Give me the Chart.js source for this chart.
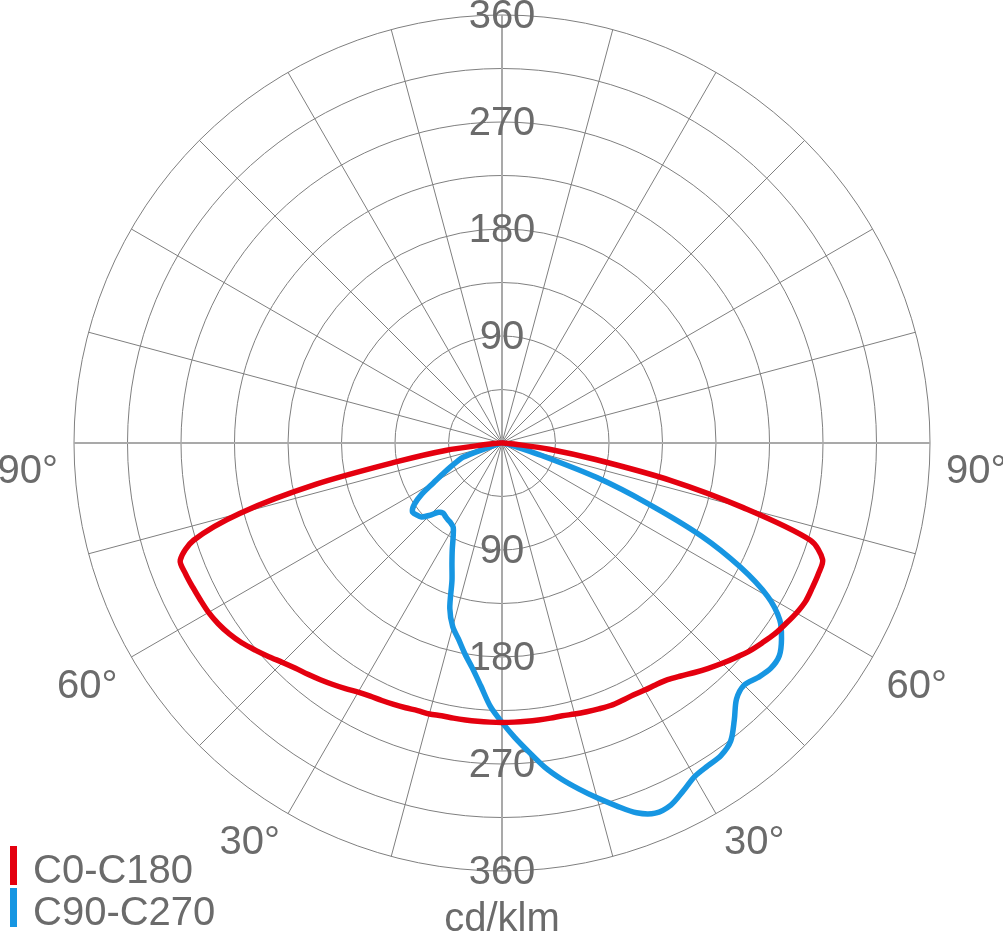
<!DOCTYPE html>
<html>
<head>
<meta charset="utf-8">
<script src="https://cdn.jsdelivr.net/npm/chart.js@4.4.1/dist/chart.umd.min.js"></script>
<style>
  html, body { margin: 0; padding: 0; background: #ffffff; }
  canvas { display: block; }
</style>
</head>
<body>
<canvas id="chart" width="1003" height="933" style="width:1003px;height:933px"></canvas>
<script>
// ---- data (values in cd/klm, gamma angle measured from the nadir, step 2.5 deg, 0..90) ----
const gammaStep = 2.5;
const gammaDeg = [0,2.5,5,7.5,10,12.5,15,17.5,20,22.5,25,27.5,30,32.5,35,37.5,40,42.5,45,47.5,50,52.5,55,57.5,60,62.5,65,67.5,70,72.5,75,77.5,80,82.5,85,87.5,90];
// C0-C180 plane: right half (C0) and left half (C180)
const c0   = [235,235,235,235,235,235,236,237,238,239,239,239,240,241,243,247,252,257,262,267,272,276,280,283,286,288,288,288,287,272,210,145,80,40,10,3,0];
const c180 = [235,235,235,235,235,235,236,236,237,238,239,240,242,245,248,251,254,257,261,266,271,276,280,283,285,286,287,288,288,272,228,160,88,48,12,4,0];
// C90-C270 plane: right half (C90) and left half (C270)
const c90  = [235,248,261,275,287,298,309,320,331,337,336,330,324,322,321,316,304,292,288,292,295,294,287,277,258,226,185,132,85,35,12,6,3,2,1,0,0];
const c270 = [235,222,205,191,180,169,160,146,123,110,99,89,82,80,79,78,77,79,86,92,94,95,90,80,66,56,48,41,35,10,5,3,2,1,0,0,0];
const ringTicks = [90, 180, 270, 360];
const angleTicks = [30, 60, 90];
const seriesNames = ['C0-C180', 'C90-C270'];
const seriesColors = ['#e4000f', '#1796e2'];
const unitLabel = 'cd/klm';

// ---- build radar categories (theta clockwise from top, 2.5 deg) ----
const thetaLabels = [];
for (let i = 0; i < 360 / gammaStep; i++) thetaLabels.push(i * gammaStep);

function buildSeries(right, left) {
  return thetaLabels.map(theta => {
    if (theta >= 90 && theta <= 180) return right[Math.round((180 - theta) / gammaStep)];
    if (theta > 180 && theta <= 270) return left[Math.round((theta - 180) / gammaStep)];
    return 0;
  });
}

const TEXT = '#6b6b6b';
const FONT = '40px "Liberation Sans", Arial, sans-serif';

const decor = {
  id: 'decor',
  beforeDatasetsDraw(chart) {
    const s = chart.scales.r;
    const ctx = chart.ctx;
    ctx.save();
    ctx.font = FONT;
    ctx.fillStyle = TEXT;
    ctx.textAlign = 'center';
    ctx.textBaseline = 'middle';
    const bottomIdx = Math.round(180 / gammaStep);
    ringTicks.forEach(v => {
      const d = s.getDistanceFromCenterForValue(v);
      const top = s.getPointPosition(0, d);
      const bot = s.getPointPosition(bottomIdx, d);
      ctx.fillText(String(v), top.x, top.y + 2);
      ctx.fillText(String(v), bot.x, bot.y + 2);
    });
    ctx.restore();
  },
  afterDraw(chart) {
    const s = chart.scales.r;
    const ctx = chart.ctx;
    ctx.save();
    ctx.font = FONT;
    ctx.fillStyle = TEXT;
    ctx.textBaseline = 'top';
    const D = s.drawingArea + 16;
    angleTicks.forEach(g => {
      const yAdj = (g - 50) * 0.23;
      const pr = s.getPointPosition(Math.round((180 - g) / gammaStep), D);
      ctx.textAlign = 'left';
      ctx.fillText(g + '°', pr.x, pr.y + yAdj);
      const pl = s.getPointPosition(Math.round((180 + g) / gammaStep), D);
      ctx.textAlign = 'right';
      ctx.fillText(g + '°', pl.x, pl.y + yAdj);
    });
    // unit
    ctx.textAlign = 'center';
    ctx.textBaseline = 'alphabetic';
    ctx.fillText(unitLabel, s.xCenter, 931);
    // legend
    ctx.textAlign = 'left';
    chart.data.datasets.forEach((ds, i) => {
      const y0 = 846 + i * 42;
      ctx.fillStyle = ds.borderColor;
      ctx.fillRect(10, y0, 7, 39);
      ctx.fillStyle = TEXT;
      ctx.fillText(ds.label, 33, y0 + 37);
    });
    ctx.restore();
  }
};

new Chart(document.getElementById('chart'), {
  type: 'radar',
  data: {
    labels: thetaLabels,
    datasets: [
      { label: seriesNames[0], data: buildSeries(c0, c180), borderColor: seriesColors[0] },
      { label: seriesNames[1], data: buildSeries(c90, c270), borderColor: seriesColors[1] }
    ]
  },
  options: {
    responsive: false,
    animation: false,
    events: [],
    layout: { padding: { left: 74, right: 73, top: 15, bottom: 62 } },
    elements: {
      line: { borderWidth: 5.5, tension: 0.3, fill: false, borderJoinStyle: 'round', borderCapStyle: 'round' },
      point: { radius: 0, hoverRadius: 0 }
    },
    plugins: { legend: { display: false }, tooltip: { enabled: false } },
    scales: {
      r: {
        min: 0,
        max: 360,
        startAngle: 0,
        ticks: { display: false, stepSize: 45 },
        pointLabels: { display: false },
        grid: { circular: true, color: '#7f7f7f', lineWidth: 1 },
        angleLines: {
          display: true,
          color: c => (c.index % 6 !== 0 ? null : (c.index % 36 === 0 ? '#a9a9a9' : '#7f7f7f')),
          lineWidth: c => (c.index % 6 !== 0 ? 0 : (c.index % 36 === 0 ? 2 : 1))
        }
      }
    }
  },
  plugins: [decor]
});
</script>
</body>
</html>
